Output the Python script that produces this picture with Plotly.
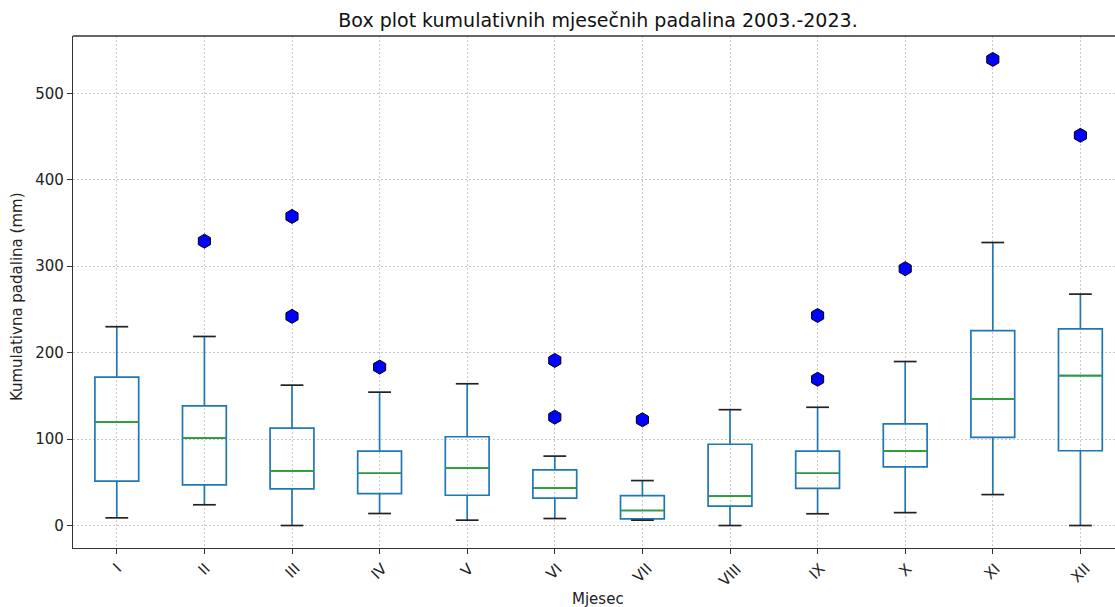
import plotly.graph_objects as go

months = ["I", "II", "III", "IV", "V", "VI", "VII", "VIII", "IX", "X", "XI", "XII"]
lower_whisker = [8.9, 24.0, 0.0, 13.9, 6.2, 8.1, 6.2, 0.0, 13.6, 14.9, 35.8, 0.0]
q1 = [51.3, 47.0, 42.4, 37.0, 35.0, 31.6, 7.7, 22.4, 43.0, 67.8, 101.9, 86.5]
median = [119.6, 101.0, 63.3, 60.5, 66.4, 43.2, 17.4, 34.0, 60.5, 86.1, 146.2, 173.5]
q3 = [171.6, 138.5, 112.6, 86.0, 102.7, 64.4, 34.7, 94.0, 86.1, 117.6, 225.5, 227.6]
upper_whisker = [230.0, 218.7, 162.4, 154.3, 164.0, 80.3, 52.0, 134.0, 136.8, 189.7, 327.4, 267.7]
outliers = [[], [329.0], [357.6, 242.0], [183.3], [], [191.0, 125.4], [122.3], [], [243.0, 169.2], [297.1], [539.2], [451.4]]
y_ticks = [0, 100, 200, 300, 400, 500]

title = "Box plot kumulativnih mjesečnih padalina 2003.-2023."
x_title = "Mjesec"
y_title = "Kumulativna padalina (mm)"

BLUE = "#1f77b4"
GREEN = "#2ca02c"
BOX_W = 0.5
CAP_HALF = 0.13
FONT = "DejaVu Sans"
TXT = "#222222"

W, H = 1115, 607
ML, MT, MB, MR = 73, 36, 59, 0
PW = W - ML - MR
PH = H - MT - MB

positions = list(range(1, len(months) + 1))

fig = go.Figure()

for i, p in enumerate(positions):
    fig.add_trace(go.Box(
        x=[p], q1=[q1[i]], median=[median[i]], q3=[q3[i]],
        lowerfence=[lower_whisker[i]], upperfence=[upper_whisker[i]],
        width=BOX_W, whiskerwidth=0, boxpoints=False,
        fillcolor="rgba(0,0,0,0)", line=dict(color=BLUE, width=1.7),
        showlegend=False, hoverinfo="skip",
    ))

# medians (green)
mx, my = [], []
for p, m in zip(positions, median):
    mx += [p - BOX_W / 2, p + BOX_W / 2, None]
    my += [m, m, None]
fig.add_trace(go.Scatter(x=mx, y=my, mode="lines", line=dict(color=GREEN, width=1.7),
                         showlegend=False, hoverinfo="skip"))

# caps (black)
cx, cy = [], []
for p, lo, hi in zip(positions, lower_whisker, upper_whisker):
    cx += [p - CAP_HALF, p + CAP_HALF, None, p - CAP_HALF, p + CAP_HALF, None]
    cy += [lo, lo, None, hi, hi, None]
fig.add_trace(go.Scatter(x=cx, y=cy, mode="lines", line=dict(color="#222222", width=1.7),
                         showlegend=False, hoverinfo="skip"))

# outliers
ox, oy = [], []
for p, outs in zip(positions, outliers):
    for v in outs:
        ox.append(p)
        oy.append(v)
fig.add_trace(go.Scatter(x=ox, y=oy, mode="markers",
                         marker=dict(symbol="hexagon", size=14, color="#0000ff",
                                     line=dict(color="black", width=1)),
                         showlegend=False, hoverinfo="skip"))

annotations = []
for p, lab in zip(positions, months):
    annotations.append(dict(x=p, y=0, xref="x", yref="paper", text=lab, showarrow=False,
                            textangle=-45, xanchor="center", yanchor="top", yshift=-9,
                            font=dict(family=FONT, size=15, color=TXT)))
annotations.append(dict(x=(598 - ML) / PW, y=-(599 - (H - MB)) / PH, xref="paper", yref="paper",
                        text=x_title, showarrow=False, xanchor="center", yanchor="middle",
                        font=dict(family=FONT, size=15, color=TXT)))
annotations.append(dict(x=(17 - ML) / PW, y=0.49, xref="paper", yref="paper", text=y_title,
                        showarrow=False, textangle=-90, xanchor="center", yanchor="middle",
                        font=dict(family=FONT, size=15, color=TXT)))

fig.update_layout(
    width=W, height=H,
    margin=dict(l=ML, r=MR, t=MT, b=MB, autoexpand=False),
    paper_bgcolor="white", plot_bgcolor="white",
    title=dict(text=title, x=(598 - ML) / PW, xref="paper", xanchor="center",
               y=1 - 20 / H, yanchor="middle",
               font=dict(family=FONT, size=19, color="#111111")),
    font=dict(family=FONT, size=15, color=TXT),
    annotations=annotations,
    showlegend=False,
)
fig.update_xaxes(
    range=[0.5, 0.5 + PW / 87.6], tickvals=positions, showticklabels=False,
    ticks="outside", ticklen=5, tickcolor="#333333", tickwidth=1.3,
    showline=True, linecolor="#333333", linewidth=1.3,
    showgrid=True, gridcolor="#c8c8c8", griddash="2px,2px", gridwidth=1,
    zeroline=False,
)
fig.update_yaxes(
    range=[-26.0, 566.3], tickvals=y_ticks,
    ticks="outside", ticklen=5, tickcolor="#333333", tickwidth=1.3,
    tickfont=dict(family=FONT, size=15, color=TXT),
    showline=True, linecolor="#333333", linewidth=1.3,
    showgrid=True, gridcolor="#c8c8c8", griddash="2px,2px", gridwidth=1,
    zeroline=False,
)
# top frame line
fig.add_shape(type="line", xref="paper", yref="paper", x0=0, x1=1, y0=1, y1=1,
              line=dict(color="#333333", width=1.3))

fig.write_html("out.html",
               config={"displayModeBar": False},
               post_script="document.body.style.margin='0';document.body.style.overflow='hidden';")
